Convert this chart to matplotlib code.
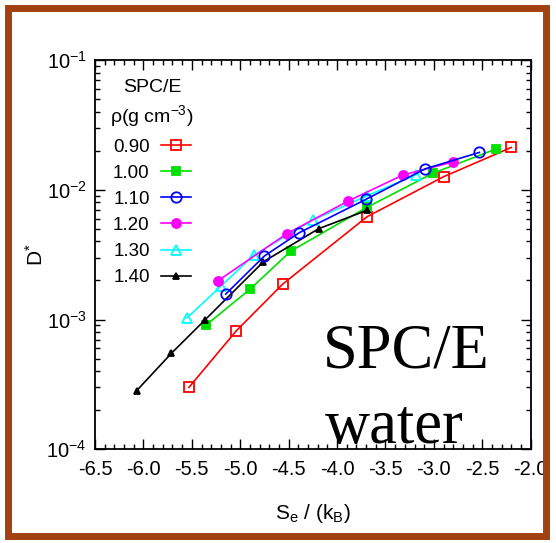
import matplotlib
matplotlib.use("Agg")
import matplotlib.pyplot as plt
from matplotlib.patches import Rectangle
from matplotlib.ticker import MultipleLocator, LogLocator, NullFormatter

# ---- data ----
densities = ["0.90", "1.00", "1.10", "1.20", "1.30", "1.40"]
se_090 = [-5.53, -5.04, -4.56, -3.69, -2.90, -2.20]
d_090 = [3.0e-4, 8.2e-4, 1.88e-3, 6.2e-3, 1.26e-2, 2.12e-2]
se_100 = [-5.35, -4.90, -4.48, -3.69, -3.01, -2.36]
d_100 = [9.1e-4, 1.71e-3, 3.36e-3, 7.33e-3, 1.34e-2, 2.06e-2]
se_110 = [-5.15, -4.75, -4.39, -3.70, -3.09, -2.53]
d_110 = [1.57e-3, 3.09e-3, 4.67e-3, 8.45e-3, 1.45e-2, 1.94e-2]
se_120 = [-5.23, -4.52, -3.89, -3.32, -2.80]
d_120 = [1.99e-3, 4.58e-3, 8.16e-3, 1.30e-2, 1.64e-2]
se_130 = [-5.55, -5.20, -4.86, -4.25, -3.69, -3.18]
d_130 = [1.03e-3, 1.81e-3, 3.13e-3, 5.85e-3, 9.0e-3, 1.31e-2]
se_140 = [-6.07, -5.71, -5.36, -4.76, -4.19, -3.69]
d_140 = [2.83e-4, 5.5e-4, 1.0e-3, 2.79e-3, 5.01e-3, 6.95e-3]

series_x = [se_090, se_100, se_110, se_120, se_130, se_140]
series_y = [d_090, d_100, d_110, d_120, d_130, d_140]

colors = ["#ff0000", "#00e000", "#0000ff", "#ff00ff", "#00ffff", "#000000"]
markers = ["s", "s", "o", "o", "^", "^"]
mfcs = ["none", "#00e000", "none", "#ff00ff", "none", "#000000"]
msizes = [7.5, 6, 7.5, 6.5, 7.5, 5]
zorders = [2, 2, 4, 3, 2, 2]

plt.rcParams['font.family'] = ['Liberation Sans', 'DejaVu Sans']
plt.rcParams['mathtext.fontset'] = 'custom'
plt.rcParams['mathtext.rm'] = 'Liberation Sans'
plt.rcParams['mathtext.it'] = 'Liberation Sans'

W, H = 556, 543
fig = plt.figure(figsize=(W / 100, H / 100), dpi=100)
fig.patch.set_facecolor("white")

# brown frame
frame = Rectangle((8 / W, 1 - 536 / H), (546 - 8) / W, (536 - 7.5) / H,
                  transform=fig.transFigure, fill=False,
                  edgecolor="#a3400f", linewidth=5.0, zorder=0)
fig.patches.append(frame)

ax = fig.add_axes([95 / W, 1 - 449.3 / H, (530.7 - 95) / W, (449.3 - 60) / H])

for i in range(6):
    ax.plot(series_x[i], series_y[i], color=colors[i], marker=markers[i],
            mfc=mfcs[i], mec=colors[i], ms=msizes[i], mew=1.3, lw=1.2,
            label=densities[i], zorder=zorders[i])

ax.set_yscale("log")
ax.set_xlim(-6.5, -2.0)
ax.set_ylim(1e-4, 1e-1)

ax.xaxis.set_major_locator(MultipleLocator(0.5))
ax.xaxis.set_minor_locator(MultipleLocator(0.1))
ax.xaxis.set_major_formatter(matplotlib.ticker.FormatStrFormatter('%.1f'))
ax.yaxis.set_major_locator(LogLocator(base=10, numticks=10))
ax.yaxis.set_minor_locator(LogLocator(base=10, subs=range(2, 10), numticks=20))
ax.yaxis.set_minor_formatter(NullFormatter())

ax.tick_params(which="both", direction="in", top=True, right=True,
               labelsize=14.5, width=1.0)
ax.tick_params(which="major", length=7)
ax.tick_params(which="minor", length=3.5)
ax.tick_params(axis="x", pad=8)
ax.tick_params(axis="y", pad=6)
for s in ax.spines.values():
    s.set_linewidth(1.3)

ax.set_xlabel(r"S$_{\rm e}$ / (k$_{\rm B}$)", fontsize=15, labelpad=16)
ax.set_ylabel(r"D$^{*}$", fontsize=15, labelpad=0)

leg = ax.legend(loc="upper left", bbox_to_anchor=(0.005, 0.985),
                frameon=False, markerfirst=False, fontsize=13.5,
                title="SPC/E\n" + r"ρ(g cm$^{-3}$)", title_fontsize=14,
                handlelength=1.6, labelspacing=0.48, handletextpad=0.6,
                borderaxespad=0.3)
leg.get_title().set_multialignment("center")
leg.get_title().set_linespacing(1.4)

fig.text(323 / W, 1 - 367 / H, "SPC/E", fontsize=45,
         family="Liberation Serif", ha="left", va="baseline")
fig.text(325 / W, 1 - 443 / H, "water", fontsize=45,
         family="Liberation Serif", ha="left", va="baseline")

fig.savefig("out.png", dpi=100, facecolor="white")
